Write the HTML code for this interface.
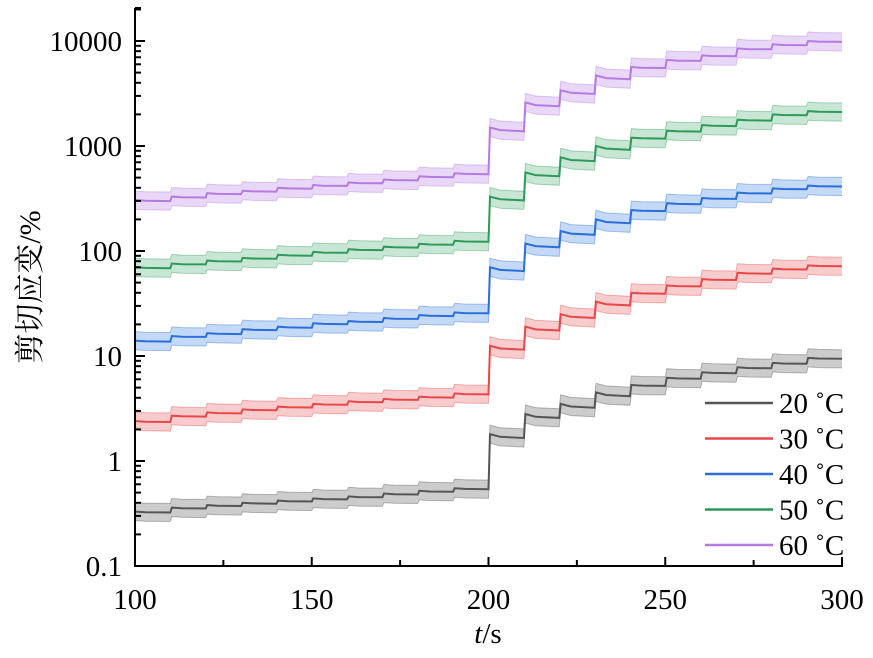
<!DOCTYPE html>
<html><head><meta charset="utf-8"><style>
body{margin:0;background:#fff;}
svg{display:block;font-family:"Liberation Serif","Noto Serif CJK SC",serif;}
</style></head><body>
<svg id="c" width="873" height="658" viewBox="0 0 873 658"></svg>
<script>
const segStarts=[100,110,120,130,140,150,160,170,180,190,200,210,220,230,240,250,260,270,280,290];
const seriesNames=["20 °C","30 °C","40 °C","50 °C","60 °C"];
const s20=[0.33,0.36,0.38,0.40,0.42,0.44,0.46,0.49,0.52,0.55,1.8,2.8,3.5,4.5,5.3,6.2,7.0,7.8,8.6,9.6];
const s30=[2.4,2.7,2.9,3.1,3.3,3.5,3.7,3.9,4.1,4.4,12.5,19,25,33,40,47,54,62,68,73];
const s40=[14,15.5,16.5,18,19,20.5,21.5,23,24.5,26,70,118,155,200,245,285,320,360,395,420];
const s50=[70,76,81,86,92,98,104,110,117,125,330,560,780,1000,1200,1400,1580,1780,2000,2150];
const s60=[305,330,355,375,400,425,450,480,515,550,1500,2600,3400,4700,5650,6600,7300,8500,9300,10000];
const xTicks=[100,150,200,250,300];
const yTicks=[0.1,1,10,100,1000,10000];
const yTickLabels=["0.1","1","10","100","1000","10000"];
const lineColors=["#555555","#e8474a","#2a6fdb","#2e9a5a","#b57be0"];
const fillColors=["#9a9a9a","#f29a9c","#8ab4ee","#8fd0aa","#d4b0f0"];
const allSeries=[s20,s30,s40,s50,s60];

const NS="http://www.w3.org/2000/svg";
const svg=document.getElementById('c');
const X0=135,X1=842,Y0=566,DEC=105;
const xs=t=>X0+(t-100)*(X1-X0)/200;
const ys=v=>Y0-(Math.log10(v)+1)*DEC;
function mk(tag,attrs,parent){const e=document.createElementNS(NS,tag);for(const k in attrs)e.setAttribute(k,attrs[k]);(parent||svg).appendChild(e);return e;}
const BAND=1.22;
function pathFor(arr,f){
  let d="";
  arr.forEach((v,i)=>{
    const a=segStarts[i],b=a+10;
    const v0=v*f;
    const decay=a>=200&&a<240?0.92:0.98;
    const xa=xs(a)+(i?1.5:0),xb=xs(b);
    d+=(i?"L":"M")+xa.toFixed(1)+","+ys(v0).toFixed(1);
    d+="L"+(xa+(xb-xa)*0.3).toFixed(1)+","+ys(v0*(1-(1-decay)*0.7)).toFixed(1);
    d+="L"+xb.toFixed(1)+","+ys(v0*decay).toFixed(1);
  });
  return d;
}
allSeries.forEach((arr,k)=>{
  const g=mk('g',{});
  
  
  const up=pathFor(arr,BAND), lo=pathFor(arr,1/BAND);
  const loPts=lo.replace(/^M/,"").split("L").reverse().join("L");
  const band=mk('path',{d:up+"L"+loPts+"Z",fill:fillColors[k],'fill-opacity':0.5,stroke:'none'},g);
  
  
  mk('path',{d:up,fill:'none',stroke:lineColors[k],'stroke-opacity':0.4,'stroke-width':1},g);
  mk('path',{d:lo,fill:'none',stroke:lineColors[k],'stroke-opacity':0.4,'stroke-width':1},g);
  const ln=mk('path',{d:pathFor(arr,1),fill:'none',stroke:lineColors[k],'stroke-width':2},g);
  
  
});
const ax=mk('path',{d:`M${X0},8V${Y0}H${X1}V${Y0-9}`,fill:'none',stroke:'#000','stroke-width':2});


for(let t=100;t<=300;t+=25){
  const major=(t%50===0);
  if(t===100||t===300)continue;
  mk('line',{x1:xs(t),x2:xs(t),y1:Y0,y2:Y0-(major?9:6),stroke:'#000','stroke-width':2});
}
xTicks.forEach(t=>{
  const tx=mk('text',{x:xs(t),y:609,'text-anchor':'middle','font-size':29});
  tx.textContent=t;
  
  
});
for(let e=-1;e<=4;e++){
  for(let m=1;m<=9;m++){
    const v=m*Math.pow(10,e);
    if(e===-1&&m===1)continue;
    mk('line',{x1:X0,x2:X0+(m===1?10:6),y1:ys(v),y2:ys(v),stroke:'#000','stroke-width':2});
  }
}
mk('line',{x1:X0,x2:X0+6,y1:ys(20000),y2:ys(20000),stroke:'#000','stroke-width':2});
mk('line',{x1:X0,x2:X0+6,y1:8,y2:8,stroke:'#000','stroke-width':2});
yTicks.forEach((v,i)=>{
  const tx=mk('text',{x:122,y:ys(v)+10,'text-anchor':'end','font-size':29});
  tx.textContent=yTickLabels[i];
  
  
});
const xt=mk('text',{x:488,y:643,'text-anchor':'middle','font-size':29});
xt.innerHTML='<tspan font-style="italic">t</tspan>/s';


const yt=mk('text',{x:0,y:0,'text-anchor':'middle','font-size':30,transform:'translate(40,287) rotate(-90)'});
yt.textContent='剪切应变/%';


seriesNames.forEach((n,k)=>{
  const y=403+k*35.5;
  const g=mk('g',{});
  
  
  mk('line',{x1:705,x2:773,y1:y,y2:y,stroke:lineColors[k],'stroke-width':2.5},g);
  const t=mk('text',{x:779,y:y+10,'font-size':29},g);
  t.textContent=n.replace('°','˚');
});
</script>
</body></html>
